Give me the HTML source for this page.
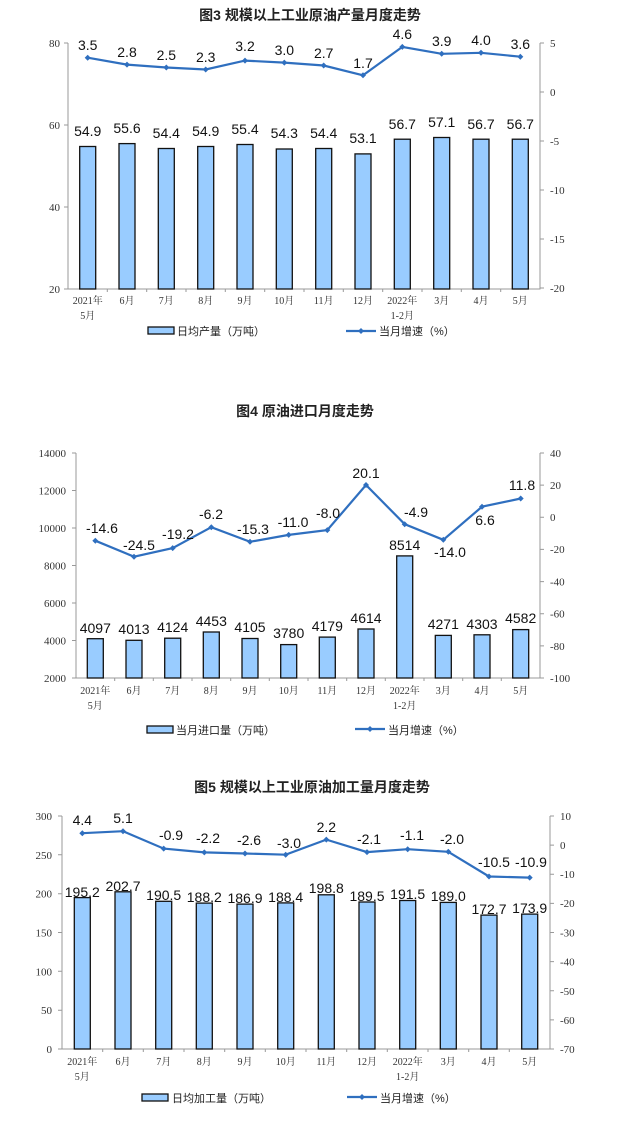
<!DOCTYPE html>
<html><head><meta charset="utf-8"><style>
html,body{margin:0;padding:0;background:#fff}
svg{display:block}
.t{font-family:"Liberation Sans","Noto Sans CJK SC",sans-serif;font-size:14px;font-weight:bold;fill:#222}
.tk{font-family:"Liberation Serif",serif;font-size:11px;fill:#333}
.d{font-family:"Liberation Sans",sans-serif;font-size:14px;fill:#111}
.c{font-family:"Liberation Serif","Noto Serif CJK SC",serif;font-size:10px;fill:#333}
.lg{font-family:"Liberation Sans","Noto Sans CJK SC",sans-serif;font-size:11px;fill:#222}
.ax{stroke:#999;stroke-width:1;fill:none}
.b{fill:#99CCFF;stroke:#111;stroke-width:1.3}
.ln{fill:none;stroke:#2F6FBF;stroke-width:2.2}
.mk{fill:#2F6FBF}
</style></head><body>
<svg width="637" height="1121" viewBox="0 0 637 1121" xmlns="http://www.w3.org/2000/svg">
<!-- ============ Chart 1 ============ -->
<text class="t" x="310" y="20" text-anchor="middle">图3  规模以上工业原油产量月度走势</text>
<path class="ax" d="M68 43V289H540V43"/>
<path class="ax" d="M64 43H68M64 125H68M64 207H68M64 289H68M540 43H544M540 92H544M540 141H544M540 190H544M540 239H544M540 288H544"/>
<path class="ax" d="M107.3 289v3M146.7 289v3M186 289v3M225.3 289v3M264.7 289v3M304 289v3M343.3 289v3M382.7 289v3M422 289v3M461.3 289v3M500.7 289v3"/>
<g class="tk" text-anchor="end"><text x="60" y="47">80</text><text x="60" y="129">60</text><text x="60" y="211">40</text><text x="60" y="293">20</text></g>
<g class="tk"><text x="550" y="47">5</text><text x="550" y="96">0</text><text x="550" y="145">-5</text><text x="550" y="194">-10</text><text x="550" y="243">-15</text><text x="550" y="292">-20</text></g>
<g class="b">
<rect x="79.7" y="146.5" width="16" height="142.5"/><rect x="119" y="143.6" width="16" height="145.4"/><rect x="158.3" y="148.5" width="16" height="140.5"/><rect x="197.7" y="146.5" width="16" height="142.5"/><rect x="237" y="144.5" width="16" height="144.5"/><rect x="276.3" y="149" width="16" height="140"/><rect x="315.7" y="148.5" width="16" height="140.5"/><rect x="355" y="153.9" width="16" height="135.1"/><rect x="394.3" y="139.2" width="16" height="149.8"/><rect x="433.7" y="137.5" width="16" height="151.5"/><rect x="473" y="139.2" width="16" height="149.8"/><rect x="512.3" y="139.2" width="16" height="149.8"/>
</g>
<g class="d" text-anchor="middle">
<text x="87.7" y="136">54.9</text><text x="127" y="133">55.6</text><text x="166.3" y="138">54.4</text><text x="205.7" y="136">54.9</text><text x="245" y="134">55.4</text><text x="284.3" y="138">54.3</text><text x="323.7" y="138">54.4</text><text x="363" y="143">53.1</text><text x="402.3" y="129">56.7</text><text x="441.7" y="127">57.1</text><text x="481" y="129">56.7</text><text x="520.3" y="129">56.7</text>
</g>
<polyline class="ln" points="87.7,57.7 127,64.6 166.3,67.5 205.7,69.5 245,60.6 284.3,62.6 323.7,65.5 363,75.3 402.3,46.9 441.7,53.8 481,52.8 520.3,56.7"/>
<g class="mk">
<path d="M87.7 54.7l3 3-3 3-3-3z"/><path d="M127 61.6l3 3-3 3-3-3z"/><path d="M166.3 64.5l3 3-3 3-3-3z"/><path d="M205.7 66.5l3 3-3 3-3-3z"/><path d="M245 57.6l3 3-3 3-3-3z"/><path d="M284.3 59.6l3 3-3 3-3-3z"/><path d="M323.7 62.5l3 3-3 3-3-3z"/><path d="M363 72.3l3 3-3 3-3-3z"/><path d="M402.3 43.9l3 3-3 3-3-3z"/><path d="M441.7 50.8l3 3-3 3-3-3z"/><path d="M481 49.8l3 3-3 3-3-3z"/><path d="M520.3 53.7l3 3-3 3-3-3z"/>
</g>
<g class="d" text-anchor="middle">
<text x="87.7" y="50">3.5</text><text x="127" y="57">2.8</text><text x="166.3" y="60">2.5</text><text x="205.7" y="62">2.3</text><text x="245" y="51">3.2</text><text x="284.3" y="55">3.0</text><text x="323.7" y="58">2.7</text><text x="363" y="68">1.7</text><text x="402.3" y="39">4.6</text><text x="441.7" y="46">3.9</text><text x="481" y="45">4.0</text><text x="520.3" y="49">3.6</text>
</g>
<g class="c" text-anchor="middle">
<text x="87.7" y="304">2021年</text><text x="87.7" y="319">5月</text><text x="127" y="304">6月</text><text x="166.3" y="304">7月</text><text x="205.7" y="304">8月</text><text x="245" y="304">9月</text><text x="284.3" y="304">10月</text><text x="323.7" y="304">11月</text><text x="363" y="304">12月</text><text x="402.3" y="304">2022年</text><text x="402.3" y="319">1-2月</text><text x="441.7" y="304">3月</text><text x="481" y="304">4月</text><text x="520.3" y="304">5月</text>
</g>
<rect x="148" y="327" width="26" height="7" fill="#99CCFF" stroke="#111" stroke-width="1.3"/>
<text class="lg" x="177" y="335">日均产量（万吨）</text>
<line x1="346" y1="331" x2="376" y2="331" stroke="#2F6FBF" stroke-width="2.2"/><path class="mk" d="M361 328l3 3-3 3-3-3z"/>
<text class="lg" x="379" y="335">当月增速（%）</text>

<!-- ============ Chart 2 ============ -->
<text class="t" x="305" y="416" text-anchor="middle">图4  原油进口月度走势</text>
<path class="ax" d="M76 453V678H540V453"/>
<path class="ax" d="M72 453H76M72 490.5H76M72 528H76M72 565.5H76M72 603H76M72 640.5H76M72 678H76M540 453H544M540 485.1H544M540 517.3H544M540 549.4H544M540 581.6H544M540 613.7H544M540 645.9H544M540 678H544"/>
<path class="ax" d="M114.7 678v3M153.3 678v3M192 678v3M230.7 678v3M269.3 678v3M308 678v3M346.7 678v3M385.3 678v3M424 678v3M462.7 678v3M501.3 678v3"/>
<g class="tk" text-anchor="end"><text x="66" y="457">14000</text><text x="66" y="494.5">12000</text><text x="66" y="532">10000</text><text x="66" y="569.5">8000</text><text x="66" y="607">6000</text><text x="66" y="644.5">4000</text><text x="66" y="682">2000</text></g>
<g class="tk"><text x="550" y="457">40</text><text x="550" y="489">20</text><text x="550" y="521">0</text><text x="550" y="553">-20</text><text x="550" y="585.5">-40</text><text x="550" y="617.5">-60</text><text x="550" y="650">-80</text><text x="550" y="682">-100</text></g>
<g class="b">
<rect x="87.3" y="638.7" width="16" height="39.3"/><rect x="126" y="640.3" width="16" height="37.7"/><rect x="164.7" y="638.2" width="16" height="39.8"/><rect x="203.3" y="632" width="16" height="46"/><rect x="242" y="638.5" width="16" height="39.5"/><rect x="280.7" y="644.6" width="16" height="33.4"/><rect x="319.3" y="637.1" width="16" height="40.9"/><rect x="358" y="629" width="16" height="49"/><rect x="396.7" y="555.9" width="16" height="122.1"/><rect x="435.3" y="635.4" width="16" height="42.6"/><rect x="474" y="634.8" width="16" height="43.2"/><rect x="512.7" y="629.6" width="16" height="48.4"/>
</g>
<g class="d" text-anchor="middle">
<text x="95.3" y="633">4097</text><text x="134" y="634">4013</text><text x="172.7" y="632">4124</text><text x="211.3" y="626">4453</text><text x="250" y="632">4105</text><text x="288.7" y="638">3780</text><text x="327.3" y="631">4179</text><text x="366" y="623">4614</text><text x="404.7" y="550">8514</text><text x="443.3" y="629">4271</text><text x="482" y="629">4303</text><text x="520.7" y="623">4582</text>
</g>
<polyline class="ln" points="95.3,540.7 134,556.7 172.7,548.1 211.3,527.2 250,541.8 288.7,534.9 327.3,530.1 366,485 404.7,524.2 443.3,539.8 482,506.7 520.7,498.5"/>
<g class="mk">
<path d="M95.3 537.7l3 3-3 3-3-3z"/><path d="M134 553.7l3 3-3 3-3-3z"/><path d="M172.7 545.1l3 3-3 3-3-3z"/><path d="M211.3 524.2l3 3-3 3-3-3z"/><path d="M250 538.8l3 3-3 3-3-3z"/><path d="M288.7 531.9l3 3-3 3-3-3z"/><path d="M327.3 527.1l3 3-3 3-3-3z"/><path d="M366 482l3 3-3 3-3-3z"/><path d="M404.7 521.2l3 3-3 3-3-3z"/><path d="M443.3 536.8l3 3-3 3-3-3z"/><path d="M482 503.7l3 3-3 3-3-3z"/><path d="M520.7 495.5l3 3-3 3-3-3z"/>
</g>
<g class="d" text-anchor="middle">
<text x="102" y="533">-14.6</text><text x="139" y="550">-24.5</text><text x="178" y="539">-19.2</text><text x="211" y="519">-6.2</text><text x="253" y="534">-15.3</text><text x="293" y="527">-11.0</text><text x="328" y="518">-8.0</text><text x="366" y="478">20.1</text><text x="416" y="517">-4.9</text><text x="450" y="557">-14.0</text><text x="485" y="525">6.6</text><text x="522" y="490">11.8</text>
</g>
<g class="c" text-anchor="middle">
<text x="95.3" y="694">2021年</text><text x="95.3" y="709">5月</text><text x="134" y="694">6月</text><text x="172.7" y="694">7月</text><text x="211.3" y="694">8月</text><text x="250" y="694">9月</text><text x="288.7" y="694">10月</text><text x="327.3" y="694">11月</text><text x="366" y="694">12月</text><text x="404.7" y="694">2022年</text><text x="404.7" y="709">1-2月</text><text x="443.3" y="694">3月</text><text x="482" y="694">4月</text><text x="520.7" y="694">5月</text>
</g>
<rect x="147" y="726" width="26" height="7" fill="#99CCFF" stroke="#111" stroke-width="1.3"/>
<text class="lg" x="176" y="734">当月进口量（万吨）</text>
<line x1="355" y1="729" x2="385" y2="729" stroke="#2F6FBF" stroke-width="2.2"/><path class="mk" d="M370 726l3 3-3 3-3-3z"/>
<text class="lg" x="388" y="734">当月增速（%）</text>

<!-- ============ Chart 3 ============ -->
<text class="t" x="312" y="792" text-anchor="middle">图5  规模以上工业原油加工量月度走势</text>
<path class="ax" d="M62 816V1049H550V816"/>
<path class="ax" d="M58 816H62M58 854.8H62M58 893.7H62M58 932.5H62M58 971.3H62M58 1010.2H62M58 1049H62M550 816H554M550 845.1H554M550 874.3H554M550 903.4H554M550 932.5H554M550 961.6H554M550 990.8H554M550 1019.9H554M550 1049H554"/>
<path class="ax" d="M102.7 1049v3M143.3 1049v3M184 1049v3M224.7 1049v3M265.3 1049v3M306 1049v3M346.7 1049v3M387.3 1049v3M428 1049v3M468.7 1049v3M509.3 1049v3"/>
<g class="tk" text-anchor="end"><text x="52" y="820">300</text><text x="52" y="858.8">250</text><text x="52" y="897.7">200</text><text x="52" y="936.5">150</text><text x="52" y="975.3">100</text><text x="52" y="1014.2">50</text><text x="52" y="1053">0</text></g>
<g class="tk"><text x="560" y="820">10</text><text x="560" y="849">0</text><text x="560" y="878">-10</text><text x="560" y="907">-20</text><text x="560" y="936.5">-30</text><text x="560" y="965.5">-40</text><text x="560" y="995">-50</text><text x="560" y="1024">-60</text><text x="560" y="1053">-70</text></g>
<g class="b">
<rect x="74.3" y="897.6" width="16" height="151.4"/><rect x="115" y="891.8" width="16" height="157.2"/><rect x="155.7" y="901.3" width="16" height="147.7"/><rect x="196.3" y="903.1" width="16" height="145.9"/><rect x="237" y="904.1" width="16" height="144.9"/><rect x="277.7" y="902.9" width="16" height="146.1"/><rect x="318.3" y="894.8" width="16" height="154.2"/><rect x="359" y="902" width="16" height="147"/><rect x="399.7" y="900.5" width="16" height="148.5"/><rect x="440.3" y="902.4" width="16" height="146.6"/><rect x="481" y="915.1" width="16" height="133.9"/><rect x="521.7" y="914.1" width="16" height="134.9"/>
</g>
<g class="d" text-anchor="middle">
<text x="82.3" y="897">195.2</text><text x="123" y="891">202.7</text><text x="163.7" y="900">190.5</text><text x="204.3" y="902">188.2</text><text x="245" y="903">186.9</text><text x="285.7" y="902">188.4</text><text x="326.3" y="893">198.8</text><text x="367" y="901">189.5</text><text x="407.7" y="899">191.5</text><text x="448.3" y="901">189.0</text><text x="489" y="914">172.7</text><text x="529.7" y="913">173.9</text>
</g>
<polyline class="ln" points="82.3,833.2 123,831.2 163.7,848.6 204.3,852.4 245,853.5 285.7,854.7 326.3,839.6 367,852.1 407.7,849.2 448.3,851.8 489,876.5 529.7,877.6"/>
<g class="mk">
<path d="M82.3 830.2l3 3-3 3-3-3z"/><path d="M123 828.2l3 3-3 3-3-3z"/><path d="M163.7 845.6l3 3-3 3-3-3z"/><path d="M204.3 849.4l3 3-3 3-3-3z"/><path d="M245 850.5l3 3-3 3-3-3z"/><path d="M285.7 851.7l3 3-3 3-3-3z"/><path d="M326.3 836.6l3 3-3 3-3-3z"/><path d="M367 849.1l3 3-3 3-3-3z"/><path d="M407.7 846.2l3 3-3 3-3-3z"/><path d="M448.3 848.8l3 3-3 3-3-3z"/><path d="M489 873.5l3 3-3 3-3-3z"/><path d="M529.7 874.6l3 3-3 3-3-3z"/>
</g>
<g class="d" text-anchor="middle">
<text x="82.3" y="825">4.4</text><text x="123" y="823">5.1</text><text x="171" y="840">-0.9</text><text x="208" y="843">-2.2</text><text x="249" y="845">-2.6</text><text x="289" y="848">-3.0</text><text x="326.3" y="832">2.2</text><text x="369" y="844">-2.1</text><text x="412" y="840">-1.1</text><text x="452" y="844">-2.0</text><text x="494" y="867">-10.5</text><text x="531" y="867">-10.9</text>
</g>
<g class="c" text-anchor="middle">
<text x="82.3" y="1065">2021年</text><text x="82.3" y="1080">5月</text><text x="123" y="1065">6月</text><text x="163.7" y="1065">7月</text><text x="204.3" y="1065">8月</text><text x="245" y="1065">9月</text><text x="285.7" y="1065">10月</text><text x="326.3" y="1065">11月</text><text x="367" y="1065">12月</text><text x="407.7" y="1065">2022年</text><text x="407.7" y="1080">1-2月</text><text x="448.3" y="1065">3月</text><text x="489" y="1065">4月</text><text x="529.7" y="1065">5月</text>
</g>
<rect x="142" y="1094" width="26" height="7" fill="#99CCFF" stroke="#111" stroke-width="1.3"/>
<text class="lg" x="172" y="1102">日均加工量（万吨）</text>
<line x1="347" y1="1097" x2="377" y2="1097" stroke="#2F6FBF" stroke-width="2.2"/><path class="mk" d="M362 1094l3 3-3 3-3-3z"/>
<text class="lg" x="380" y="1102">当月增速（%）</text>
</svg>
</body></html>
